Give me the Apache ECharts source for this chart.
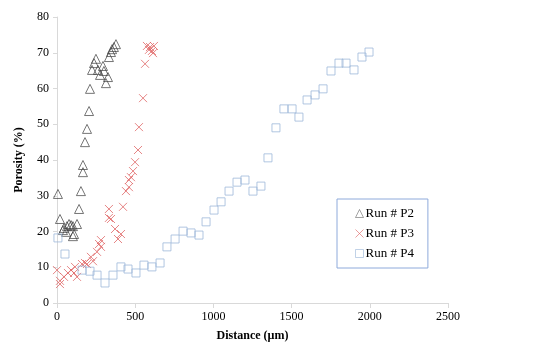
<!DOCTYPE html>
<html>
<head>
<meta charset="utf-8">
<script src="https://cdn.jsdelivr.net/npm/echarts@6/dist/echarts.min.js"></script>
<style>html,body{margin:0;padding:0;background:#fff}#c{width:550px;height:358px}</style>
</head>
<body>
<div id="c"></div>
<script>
var xTicks = [0, 500, 1000, 1500, 2000, 2500];
var yTicks = [0, 10, 20, 30, 40, 50, 60, 70, 80];
var seriesNames = ['Run # P2', 'Run # P3', 'Run # P4'];

var p2 = [[377,72.4],[364,71.6],[352,71.0],[345,70.2],[332,68.8],[249,68.3],[237,67.1],[294,66.3],[224,65.2],[262,65.2],[300,64.9],[275,63.8],[326,63.2],[313,61.5],[211,59.9],[205,53.7],[192,48.7],[179,45.0],[166,38.6],[166,36.6],[6,30.5],[153,31.3],[141,26.3],[19,23.5],[45,21.0],[64,21.5],[77,22.1],[90,21.8],[102,21.5],[128,22.1],[38,20.4],[58,19.9],[102,18.7],[109,19.3]];

var p3 = [[575,71.9],[595,71.6],[620,71.9],[607,70.5],[614,69.9],[588,70.8],[563,66.9],[550,57.3],[524,49.2],[518,42.8],[499,39.4],[486,36.9],[473,35.2],[460,34.4],[460,32.4],[441,31.3],[422,26.9],[332,26.3],[332,23.8],[345,23.5],[371,20.7],[409,19.3],[390,17.9],[281,17.6],[269,16.5],[281,15.7],[256,14.3],[217,12.9],[230,11.7],[179,11.2],[160,10.9],[192,10.9],[115,10.1],[90,9.2],[109,8.4],[128,7.3],[70,8.4],[45,7.3],[19,6.2],[0,9.2],[19,5.3]];

var p4 = [[6,18.2],[51,13.7],[160,9.2],[211,8.9],[256,7.8],[307,5.6],[358,7.8],[409,10.1],[454,9.5],[505,8.4],[556,10.6],[607,10.1],[659,11.2],[703,15.7],[755,17.9],[806,20.1],[857,19.6],[908,19.0],[953,22.7],[1004,26.0],[1049,28.3],[1100,31.3],[1151,33.8],[1202,34.4],[1253,31.3],[1304,32.7],[1349,40.6],[1400,49.0],[1451,54.3],[1503,54.3],[1547,52.0],[1599,56.8],[1650,58.2],[1701,59.9],[1752,64.9],[1803,67.1],[1848,67.1],[1899,65.2],[1950,68.8],[1995,70.2]];

var chart = echarts.init(document.getElementById('c'), null, {renderer: 'canvas'});
var serif = '"Liberation Serif", "Times New Roman", serif';
var axisCol = '#d9d9d9';
var xSym = 'path://M0,0L10,10M10,0L0,10';
var cols = ['#404040', '#e06666', '#9db8da'];

chart.setOption({
  animation: false,
  backgroundColor: '#ffffff',
  grid: {left: 57, right: 102, top: 17, bottom: 55, containLabel: false},
  xAxis: {
    type: 'value', min: 0, max: 2500, interval: 500,
    name: 'Distance (µm)', nameLocation: 'middle', nameGap: 27,
    nameTextStyle: {fontFamily: serif, fontWeight: 'bold', fontSize: 12, color: '#000'},
    axisLine: {show: true, lineStyle: {color: axisCol, width: 1}},
    axisTick: {show: true, inside: false, length: 5, lineStyle: {color: axisCol}},
    axisLabel: {fontFamily: serif, fontSize: 12, color: '#000', margin: 8,
      formatter: function(v){ return xTicks.indexOf(v) >= 0 ? String(v) : ''; }},
    splitLine: {show: false}
  },
  yAxis: {
    type: 'value', min: 0, max: 80, interval: 10,
    name: 'Porosity (%)', nameLocation: 'middle', nameGap: 32, nameRotate: 90,
    nameTextStyle: {fontFamily: serif, fontWeight: 'bold', fontSize: 12, color: '#000'},
    axisLine: {show: true, lineStyle: {color: axisCol, width: 1}},
    axisTick: {show: true, inside: false, length: 4, lineStyle: {color: axisCol}},
    axisLabel: {fontFamily: serif, fontSize: 12, color: '#000', margin: 8,
      formatter: function(v){ return yTicks.indexOf(v) >= 0 ? String(v) : ''; }},
    splitLine: {show: false}
  },
  legend: {
    orient: 'vertical', left: 337, top: 199,
    padding: [8, 14, 8, 16], itemGap: 7, itemWidth: 8, itemHeight: 8,
    borderColor: '#8eaadb', borderWidth: 1, backgroundColor: '#fff',
    textStyle: {fontFamily: serif, fontSize: 13, color: '#000', padding: [0,0,0,-3]},
    data: [
      {name: seriesNames[0], icon: 'triangle', itemStyle: {color: 'rgba(255,255,255,0)', borderColor: cols[0], borderWidth: 0.6}},
      {name: seriesNames[1], icon: xSym, itemStyle: {color: 'none', borderColor: cols[1], borderWidth: 0.8}},
      {name: seriesNames[2], icon: 'rect', itemStyle: {color: 'rgba(255,255,255,0)', borderColor: cols[2], borderWidth: 0.8}}
    ]
  },
  series: [
    {name: seriesNames[0], type: 'scatter', data: p2, symbol: 'triangle', symbolSize: 9,
      itemStyle: {color: 'rgba(255,255,255,0)', borderColor: cols[0], borderWidth: 0.9}},
    {name: seriesNames[1], type: 'scatter', data: p3, symbol: xSym, symbolSize: 8,
      itemStyle: {color: 'none', borderColor: cols[1], borderWidth: 1}},
    {name: seriesNames[2], type: 'scatter', data: p4, symbol: 'rect', symbolSize: 8,
      itemStyle: {color: 'rgba(255,255,255,0)', borderColor: cols[2], borderWidth: 1}}
  ]
});
</script>
</body>
</html>
